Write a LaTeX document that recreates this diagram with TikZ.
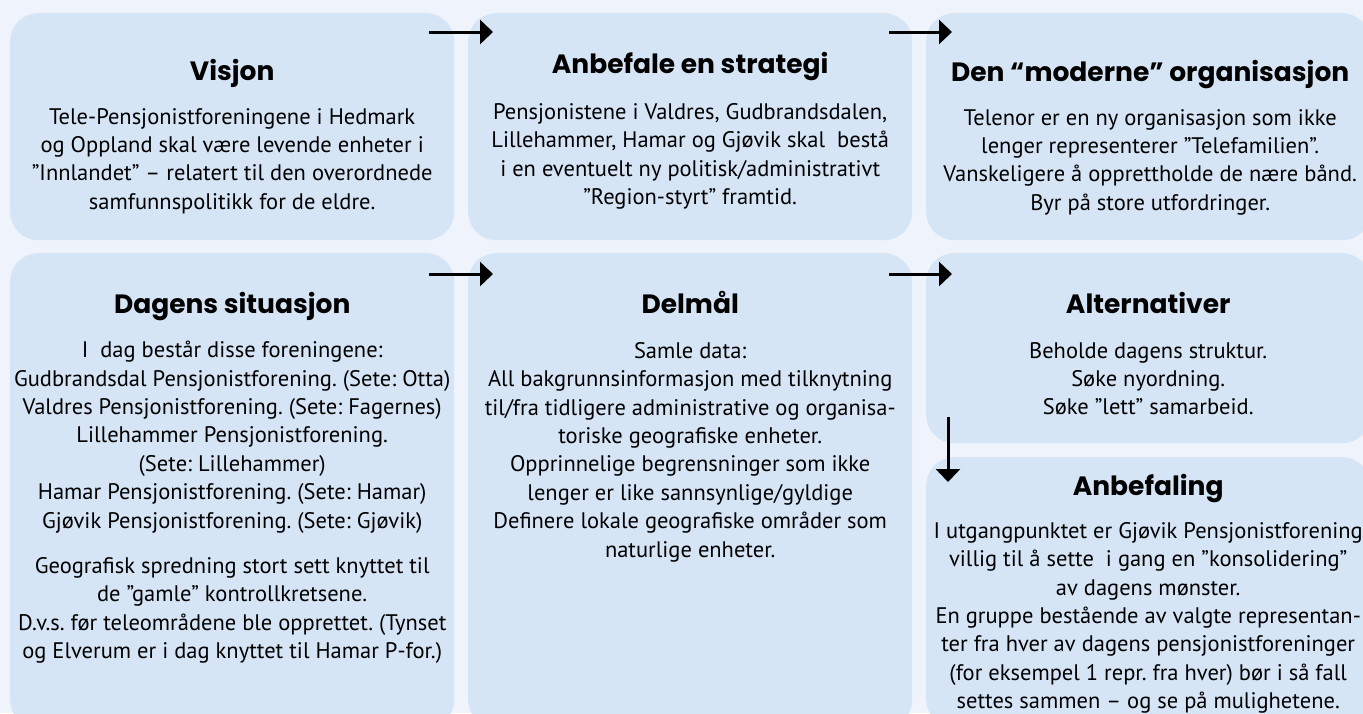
\documentclass[tikz,border=0pt]{standalone}
\usepackage{fontspec}
\setmainfont{PT Sans}
\newfontfamily\titlefont{Poppins}
\usepackage{tikz}
\usetikzlibrary{arrows.meta, positioning, calc}

\definecolor{pagebg}{RGB}{239,244,252}
\definecolor{boxblue}{RGB}{214,229,246}
\frenchspacing

\begin{document}
\begin{tikzpicture}[
  x=1pt, y=-1pt,
  box/.style = {fill=boxblue, rounded corners=28pt, inner sep=0pt, anchor=north west, minimum width=444pt},
  heading/.style = {font=\titlefont\bfseries\fontsize{26.5}{31}\selectfont, inner sep=0pt, anchor=base},
  body/.style = {font=\fontsize{22.5}{28.4}\selectfont, align=center, inner sep=0pt, anchor=north},
  arrow/.style = {line width=3pt, -{Triangle[length=13pt, width=24pt]}}
]

  \clip (0,0) rectangle (1363,713);
  \fill[pagebg] (0,0) rectangle (1363,713);

  % Top row
  \node[box, minimum height=227pt] (visjon) at (10,13) {};
  \node[box, minimum height=227pt] (strategi) at (468,13) {};
  \node[box, minimum height=227pt] (moderne) at (926,13) {};

  % Bottom row
  \node[box, minimum height=475pt] (situasjon) at (10,253) {};
  \node[box, minimum height=475pt] (delmal) at (468,253) {};
  \node[box, minimum height=190pt] (alternativer) at (926,253) {};
  \node[box, minimum height=270pt] (anbefaling) at (926,457) {};

  % Visjon
  \node[heading] (visjon_t) at ([yshift=-67pt]visjon.north) {Visjon};
  \node[body] (visjon_b) at ([yshift=-95pt]visjon.north) {
    Tele-Pensjonistforeningene i Hedmark\\
    og Oppland skal være levende enheter i\\
    ”Innlandet” – relatert til den overordnede\\
    samfunnspolitikk for de eldre.
  };

  % Anbefale en strategi
  \node[heading] (strategi_t) at ([yshift=-60pt]strategi.north) {Anbefale en strategi};
  \node[body] (strategi_b) at ([yshift=-90pt]strategi.north) {
    Pensjonistene i Valdres, Gudbrandsdalen,\\
    Lillehammer, Hamar og Gjøvik skal\ \ bestå\\
    i en eventuelt ny politisk/administrativt\\
    ”Region-styrt” framtid.
  };

  % Den moderne organisasjon
  \node[heading] (moderne_t) at ([xshift=2pt, yshift=-68pt]moderne.north) {Den “moderne” organisasjon};
  \node[body] (moderne_b) at ([xshift=2pt, yshift=-96pt]moderne.north) {
    Telenor er en ny organisasjon som ikke\\
    lenger representerer ”Telefamilien”.\\
    Vanskeligere å opprettholde de nære bånd.\\
    Byr på store utfordringer.
  };

  % Dagens situasjon
  \node[heading] (situasjon_t) at ([yshift=-60pt]situasjon.north) {Dagens situasjon};
  \node[body] (situasjon_b) at ([yshift=-88pt]situasjon.north) {
    I\ \ dag består disse foreningene:\\
    Gudbrandsdal Pensjonistforening. (Sete: Otta)\\
    Valdres Pensjonistforening. (Sete: Fagernes)\\
    Lillehammer Pensjonistforening.\\
    (Sete: Lillehammer)\\
    Hamar Pensjonistforening. (Sete: Hamar)\\
    Gjøvik Pensjonistforening. (Sete: Gjøvik)\\[17pt]
    Geografisk spredning stort sett knyttet til\\
    de ”gamle” kontrollkretsene.\\
    D.v.s. før teleområdene ble opprettet. (Tynset\\
    og Elverum er i dag knyttet til Hamar P-for.)
  };

  % Delmaal
  \node[heading] (delmal_t) at ([yshift=-60pt]delmal.north) {Delmål};
  \node[body] (delmal_b) at ([yshift=-89pt]delmal.north) {
    Samle data:\\
    All bakgrunnsinformasjon med tilknytning\\
    til/fra tidligere administrative og organisa-\\
    toriske geografiske enheter.\\
    Opprinnelige begrensninger som ikke\\
    lenger er like sannsynlige/gyldige\\
    Definere lokale geografiske områder som\\
    naturlige enheter.
  };

  % Alternativer
  \node[heading] (alternativer_t) at ([yshift=-60pt]alternativer.north) {Alternativer};
  \node[body] (alternativer_b) at ([yshift=-89pt]alternativer.north) {
    Beholde dagens struktur.\\
    Søke nyordning.\\
    Søke ”lett” samarbeid.
  };

  % Anbefaling
  \node[heading] (anbefaling_t) at ([yshift=-38pt]anbefaling.north) {Anbefaling};
  \node[body] (anbefaling_b) at ([yshift=-65pt]anbefaling.north) {
    I utgangpunktet er Gjøvik Pensjonistforening\\
    villig til å sette\ \ i gang en ”konsolidering”\\
    av dagens mønster.\\
    En gruppe bestående av valgte representan-\\
    ter fra hver av dagens pensjonistforeninger\\
    (for eksempel 1 repr. fra hver) bør i så fall\\
    settes sammen – og se på mulighetene.
  };

  % arrows between the boxes
  \draw[arrow] ([shift={(-25,19)}]visjon.north east) -- ([shift={(25,19)}]strategi.north west);
  \draw[arrow] ([shift={(-23,19)}]strategi.north east) -- ([shift={(26,19)}]moderne.north west);
  \draw[arrow] ([shift={(-25,21)}]situasjon.north east) -- ([shift={(25,21)}]delmal.north west);
  \draw[arrow] ([shift={(-23,21)}]delmal.north east) -- ([shift={(26,21)}]alternativer.north west);
  \draw[arrow] ([shift={(22,-26)}]alternativer.south west) -- ([shift={(22,25)}]anbefaling.north west);

\end{tikzpicture}
\end{document}
